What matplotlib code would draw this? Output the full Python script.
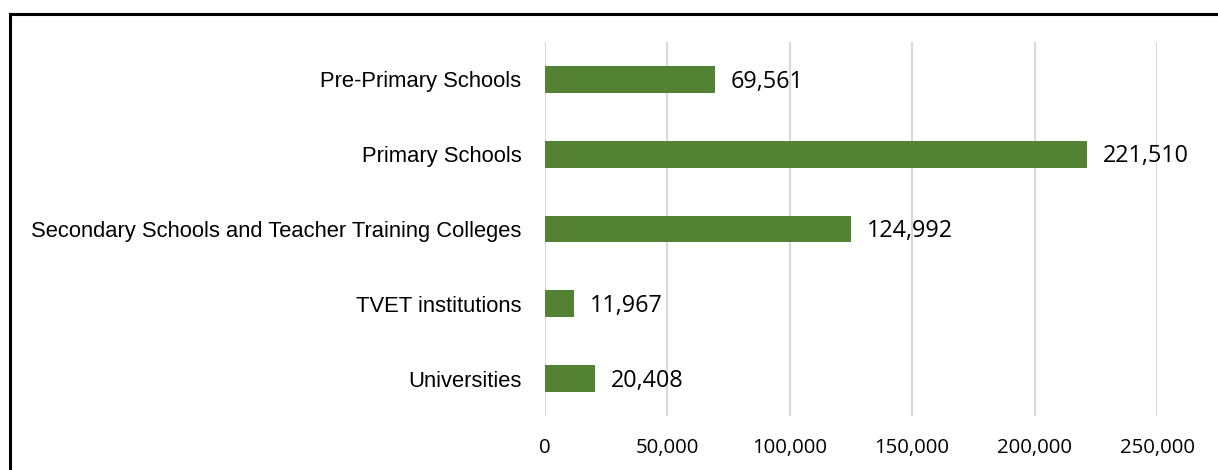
import matplotlib.pyplot as plt
from matplotlib.lines import Line2D
from matplotlib.ticker import FuncFormatter

categories = ['Pre-Primary Schools', 'Primary Schools',
              'Secondary Schools and Teacher Training Colleges',
              'TVET institutions', 'Universities']
values = [69561, 221510, 124992, 11967, 20408]
xticks = [0, 50000, 100000, 150000, 200000, 250000]

W, H = 1218, 470
fig = plt.figure(figsize=(W / 100, H / 100), dpi=100)
ax = fig.add_axes([545 / W, 1 - 416 / H, (1157 - 545) / W, (416 - 42) / H])

ypos = list(range(len(categories)))
ax.barh(ypos, values, height=0.36, color='#548235', zorder=3)
ax.set_ylim(len(categories) - 0.5, -0.5)
ax.set_xlim(0, 250000)

ax.set_yticks(ypos)
ax.set_yticklabels(categories, fontsize=15.8, family='Liberation Sans')
ax.set_xticks(xticks)
ax.xaxis.set_major_formatter(FuncFormatter(lambda v, p: f'{int(v):,}'))
for lab in ax.get_xticklabels():
    lab.set_family('Open Sans')
    lab.set_fontsize(14.7)

ax.tick_params(axis='both', length=0)
ax.tick_params(axis='y', pad=17)
ax.tick_params(axis='x', pad=16)
ax.grid(axis='x', color='#d9d9d9', linewidth=1.5, zorder=0)
for s in ax.spines.values():
    s.set_visible(False)

for y, v in zip(ypos, values):
    ax.text(v + 6300, y + 0.03, f'{v:,}', va='center', ha='left',
            fontsize=16.8, family='Open Sans', color='#000000')

# outer frame (top and left edges visible in the reference)
fig.add_artist(Line2D([9.5 / W, 1], [1 - 13.5 / H, 1 - 13.5 / H],
                      transform=fig.transFigure, color='black', linewidth=2.2))
fig.add_artist(Line2D([9.5 / W, 9.5 / W], [0, 1 - 13.5 / H],
                      transform=fig.transFigure, color='black', linewidth=2.2))

fig.savefig('out.png', dpi=100)
